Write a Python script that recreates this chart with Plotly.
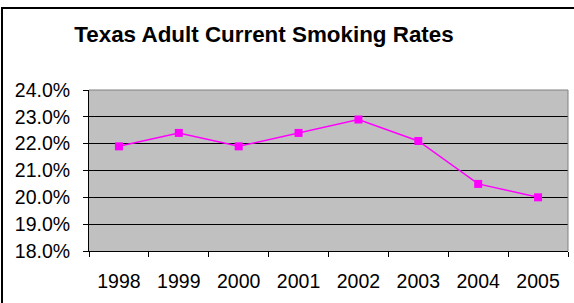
import plotly.graph_objects as go

years = ["1998", "1999", "2000", "2001", "2002", "2003", "2004", "2005"]
rates = [0.219, 0.224, 0.219, 0.224, 0.229, 0.221, 0.205, 0.200]
y_ticks = [0.18, 0.19, 0.20, 0.21, 0.22, 0.23, 0.24]

W, H = 574, 303
ml, mr, mt, mb = 89, 6, 90, 52
pw, ph = W - ml - mr, H - mt - mb

fig = go.Figure()
fig.add_trace(go.Scatter(
    x=years, y=rates, mode="lines+markers",
    line=dict(color="#FF00FF", width=1.5),
    marker=dict(symbol="square", size=8, color="#FF00FF"),
    hoverinfo="skip",
))

def px_to_paper_x(p):
    return (p - ml) / pw

def px_to_paper_y(p):
    return (H - mb - p) / ph

fig.add_shape(type="rect", xref="paper", yref="paper",
              x0=px_to_paper_x(2), x1=px_to_paper_x(580),
              y0=px_to_paper_y(310), y1=px_to_paper_y(8),
              line=dict(color="#000000", width=2), layer="below")

fig.update_layout(
    width=W, height=H,
    margin=dict(l=ml, r=mr, t=mt, b=mb),
    paper_bgcolor="white",
    plot_bgcolor="#C0C0C0",
    showlegend=False,
    font=dict(family="Liberation Sans, Arial, sans-serif", color="black"),
    title=dict(text="<b>Texas Adult Current Smoking Rates</b>",
               x=264 / W, xanchor="center", xref="container",
               y=1 - 34 / H, yanchor="middle",
               font=dict(size=22.4, color="black")),
    xaxis=dict(type="category", range=[-0.5, 7.5], tickson="boundaries",
               ticks="outside", ticklen=5, tickcolor="black",
               ticklabelstandoff=13,
               showgrid=False, showline=True, linecolor="black", linewidth=1,
               tickfont=dict(size=19.5), zeroline=False, fixedrange=True),
    yaxis=dict(range=[0.18, 0.24], tickvals=y_ticks, tickformat=".1%",
               ticks="outside", ticklen=5, tickcolor="black",
               ticklabelstandoff=9,
               showgrid=True, gridcolor="black", gridwidth=1,
               showline=True, linecolor="black", linewidth=1,
               tickfont=dict(size=19.5), zeroline=False, fixedrange=True),
)
fig.add_shape(type="line", xref="paper", yref="paper", x0=1, x1=1, y0=0, y1=1,
              line=dict(color="#808080", width=1))
fig.add_shape(type="line", xref="paper", yref="paper", x0=0, x1=1, y0=1, y1=1,
              line=dict(color="#808080", width=1))

fig.write_html("out.html", config={"displayModeBar": False},
               post_script="document.body.style.margin='0';document.body.style.overflow='hidden';")
